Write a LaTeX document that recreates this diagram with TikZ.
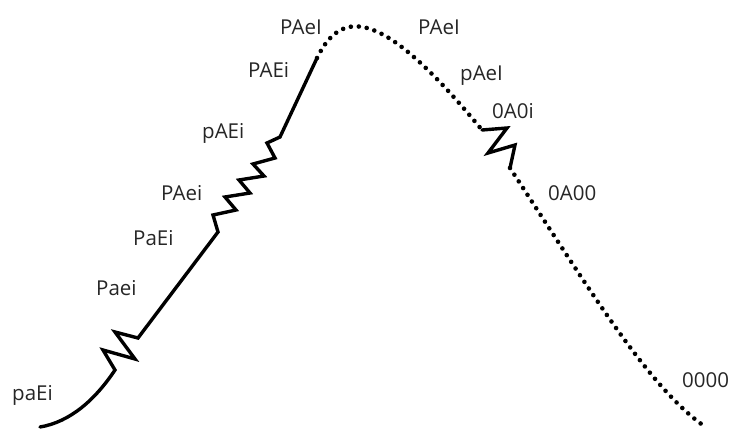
\documentclass[tikz,border=0pt]{standalone}
\usepackage{fontspec}
\setmainfont{Open Sans}
\definecolor{lblgray}{rgb}{0.15,0.15,0.15}

\begin{document}
\begin{tikzpicture}[x=1pt,y=-1pt,
    lbl/.style={anchor=base west,inner sep=0pt,text=lblgray,
                font=\fontsize{20.5}{24}\selectfont},
    solidline/.style={line width=3.4pt,line join=miter,line cap=round},
    dotline/.style={line width=4.6pt,line cap=round,dash pattern=on 0pt off 8pt}]
  \useasboundingbox (0,0) rectangle (732,437);
  % rising branch, solid
  \draw[solidline] (40,427) .. controls (70,422) and (95,400) .. (115,370)
       -- (103,350) -- (135,359) -- (115,332) -- (138,338)
       -- (218,232) -- (213,215) -- (236,210) -- (225,197) -- (250,193)
       -- (239,180) -- (264,176) -- (253,164) -- (275,158) -- (267,143)
       -- (280,137) -- (317,58);
  % top arc, dotted
  \draw[dotline] (317,58) .. controls (343,5) and (385,12) .. (482,130);
  \draw[solidline] (482,130) -- (507,128) -- (488,153) -- (515,145) -- (510,168);
  % falling branch, dotted
  \draw[dotline] (510,168) .. controls (590,290) and (650,390) .. (707,428);
  % genotype labels
  \node[lbl] (g1)  at (12,400)  {paEi};
  \node[lbl] (g2)  at (96,295)  {Paei};
  \node[lbl] (g3)  at (133,245) {PaEi};
  \node[lbl] (g4)  at (161,200) {PAei};
  \node[lbl] (g5)  at (202,138) {pAEi};
  \node[lbl] (g6)  at (248,77)  {PAEi};
  \node[lbl] (g7)  at (280,34)  {PAeI};
  \node[lbl] (g8)  at (418,34)  {PAeI};
  \node[lbl] (g9)  at (460,80)  {pAeI};
  \node[lbl] (g10) at (492,118) {0A0i};
  \node[lbl] (g11) at (548,200) {0A00};
  \node[lbl] (g12) at (682,387) {0000};
\end{tikzpicture}
\end{document}
